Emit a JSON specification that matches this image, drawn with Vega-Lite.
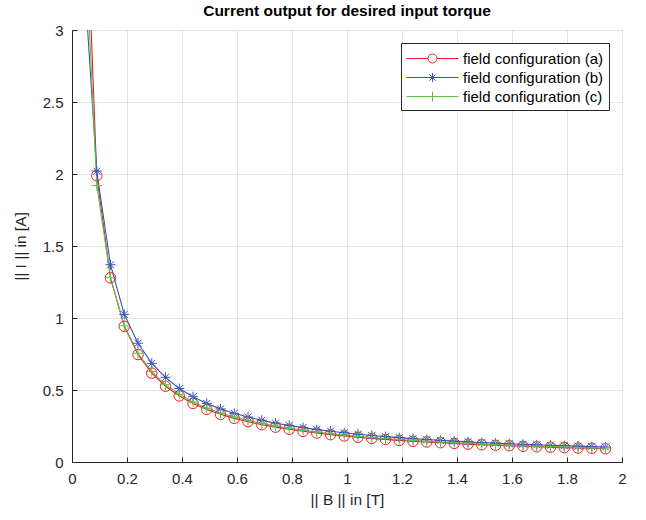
{
  "$schema": "https://vega.github.io/schema/vega-lite/v6.json",
  "width": 550,
  "height": 432,
  "autosize": {"type": "none"},
  "padding": {"left": 72, "top": 30, "right": 24, "bottom": 58},
  "background": "white",
  "title": {"text": "Current output for desired input torque", "font": "Liberation Sans", "fontSize": 15.5, "fontWeight": "bold", "color": "#000000", "offset": 4, "anchor": "middle"},
  "config": {
    "view": {"stroke": "#262626", "strokeWidth": 1},
    "axis": {"labelFont": "Liberation Sans", "titleFont": "Liberation Sans", "labelFontSize": 15, "titleFontSize": 15.5, "labelColor": "#262626", "titleColor": "#262626", "titleFontWeight": "normal", "domainColor": "#262626", "tickColor": "#262626", "gridColor": "#e3e3e3", "gridWidth": 1, "tickSize": -5, "labelFlush": false, "labelOverlap": false, "format": "~g"}
  },
  "datasets": {
    "curves": [
      {"B": 0.04, "I": 4.475, "config": "field configuration (a)"},
      {"B": 0.09, "I": 1.989, "config": "field configuration (a)"},
      {"B": 0.14, "I": 1.279, "config": "field configuration (a)"},
      {"B": 0.19, "I": 0.942, "config": "field configuration (a)"},
      {"B": 0.24, "I": 0.746, "config": "field configuration (a)"},
      {"B": 0.29, "I": 0.617, "config": "field configuration (a)"},
      {"B": 0.34, "I": 0.526, "config": "field configuration (a)"},
      {"B": 0.39, "I": 0.459, "config": "field configuration (a)"},
      {"B": 0.44, "I": 0.407, "config": "field configuration (a)"},
      {"B": 0.49, "I": 0.365, "config": "field configuration (a)"},
      {"B": 0.54, "I": 0.331, "config": "field configuration (a)"},
      {"B": 0.59, "I": 0.303, "config": "field configuration (a)"},
      {"B": 0.64, "I": 0.280, "config": "field configuration (a)"},
      {"B": 0.69, "I": 0.259, "config": "field configuration (a)"},
      {"B": 0.74, "I": 0.242, "config": "field configuration (a)"},
      {"B": 0.79, "I": 0.227, "config": "field configuration (a)"},
      {"B": 0.84, "I": 0.213, "config": "field configuration (a)"},
      {"B": 0.89, "I": 0.201, "config": "field configuration (a)"},
      {"B": 0.94, "I": 0.190, "config": "field configuration (a)"},
      {"B": 0.99, "I": 0.181, "config": "field configuration (a)"},
      {"B": 1.04, "I": 0.172, "config": "field configuration (a)"},
      {"B": 1.09, "I": 0.164, "config": "field configuration (a)"},
      {"B": 1.14, "I": 0.157, "config": "field configuration (a)"},
      {"B": 1.19, "I": 0.150, "config": "field configuration (a)"},
      {"B": 1.24, "I": 0.144, "config": "field configuration (a)"},
      {"B": 1.29, "I": 0.139, "config": "field configuration (a)"},
      {"B": 1.34, "I": 0.134, "config": "field configuration (a)"},
      {"B": 1.39, "I": 0.129, "config": "field configuration (a)"},
      {"B": 1.44, "I": 0.124, "config": "field configuration (a)"},
      {"B": 1.49, "I": 0.120, "config": "field configuration (a)"},
      {"B": 1.54, "I": 0.116, "config": "field configuration (a)"},
      {"B": 1.59, "I": 0.113, "config": "field configuration (a)"},
      {"B": 1.64, "I": 0.109, "config": "field configuration (a)"},
      {"B": 1.69, "I": 0.106, "config": "field configuration (a)"},
      {"B": 1.74, "I": 0.103, "config": "field configuration (a)"},
      {"B": 1.79, "I": 0.100, "config": "field configuration (a)"},
      {"B": 1.84, "I": 0.097, "config": "field configuration (a)"},
      {"B": 1.89, "I": 0.095, "config": "field configuration (a)"},
      {"B": 1.94, "I": 0.092, "config": "field configuration (a)"},
      {"B": 0.04, "I": 3.5, "config": "field configuration (b)"},
      {"B": 0.09, "I": 2.020, "config": "field configuration (b)"},
      {"B": 0.14, "I": 1.370, "config": "field configuration (b)"},
      {"B": 0.19, "I": 1.025, "config": "field configuration (b)"},
      {"B": 0.24, "I": 0.825, "config": "field configuration (b)"},
      {"B": 0.29, "I": 0.685, "config": "field configuration (b)"},
      {"B": 0.34, "I": 0.588, "config": "field configuration (b)"},
      {"B": 0.39, "I": 0.510, "config": "field configuration (b)"},
      {"B": 0.44, "I": 0.453, "config": "field configuration (b)"},
      {"B": 0.49, "I": 0.407, "config": "field configuration (b)"},
      {"B": 0.54, "I": 0.369, "config": "field configuration (b)"},
      {"B": 0.59, "I": 0.338, "config": "field configuration (b)"},
      {"B": 0.64, "I": 0.312, "config": "field configuration (b)"},
      {"B": 0.69, "I": 0.290, "config": "field configuration (b)"},
      {"B": 0.74, "I": 0.270, "config": "field configuration (b)"},
      {"B": 0.79, "I": 0.254, "config": "field configuration (b)"},
      {"B": 0.84, "I": 0.239, "config": "field configuration (b)"},
      {"B": 0.89, "I": 0.225, "config": "field configuration (b)"},
      {"B": 0.94, "I": 0.214, "config": "field configuration (b)"},
      {"B": 0.99, "I": 0.203, "config": "field configuration (b)"},
      {"B": 1.04, "I": 0.193, "config": "field configuration (b)"},
      {"B": 1.09, "I": 0.184, "config": "field configuration (b)"},
      {"B": 1.14, "I": 0.176, "config": "field configuration (b)"},
      {"B": 1.19, "I": 0.169, "config": "field configuration (b)"},
      {"B": 1.24, "I": 0.162, "config": "field configuration (b)"},
      {"B": 1.29, "I": 0.156, "config": "field configuration (b)"},
      {"B": 1.34, "I": 0.150, "config": "field configuration (b)"},
      {"B": 1.39, "I": 0.145, "config": "field configuration (b)"},
      {"B": 1.44, "I": 0.140, "config": "field configuration (b)"},
      {"B": 1.49, "I": 0.135, "config": "field configuration (b)"},
      {"B": 1.54, "I": 0.131, "config": "field configuration (b)"},
      {"B": 1.59, "I": 0.127, "config": "field configuration (b)"},
      {"B": 1.64, "I": 0.123, "config": "field configuration (b)"},
      {"B": 1.69, "I": 0.119, "config": "field configuration (b)"},
      {"B": 1.74, "I": 0.116, "config": "field configuration (b)"},
      {"B": 1.79, "I": 0.113, "config": "field configuration (b)"},
      {"B": 1.84, "I": 0.110, "config": "field configuration (b)"},
      {"B": 1.89, "I": 0.107, "config": "field configuration (b)"},
      {"B": 1.94, "I": 0.104, "config": "field configuration (b)"},
      {"B": 0.04, "I": 3.95, "config": "field configuration (c)"},
      {"B": 0.09, "I": 1.920, "config": "field configuration (c)"},
      {"B": 0.14, "I": 1.280, "config": "field configuration (c)"},
      {"B": 0.19, "I": 0.946, "config": "field configuration (c)"},
      {"B": 0.24, "I": 0.755, "config": "field configuration (c)"},
      {"B": 0.29, "I": 0.628, "config": "field configuration (c)"},
      {"B": 0.34, "I": 0.537, "config": "field configuration (c)"},
      {"B": 0.39, "I": 0.470, "config": "field configuration (c)"},
      {"B": 0.44, "I": 0.417, "config": "field configuration (c)"},
      {"B": 0.49, "I": 0.375, "config": "field configuration (c)"},
      {"B": 0.54, "I": 0.341, "config": "field configuration (c)"},
      {"B": 0.59, "I": 0.312, "config": "field configuration (c)"},
      {"B": 0.64, "I": 0.288, "config": "field configuration (c)"},
      {"B": 0.69, "I": 0.268, "config": "field configuration (c)"},
      {"B": 0.74, "I": 0.250, "config": "field configuration (c)"},
      {"B": 0.79, "I": 0.234, "config": "field configuration (c)"},
      {"B": 0.84, "I": 0.220, "config": "field configuration (c)"},
      {"B": 0.89, "I": 0.208, "config": "field configuration (c)"},
      {"B": 0.94, "I": 0.197, "config": "field configuration (c)"},
      {"B": 0.99, "I": 0.187, "config": "field configuration (c)"},
      {"B": 1.04, "I": 0.178, "config": "field configuration (c)"},
      {"B": 1.09, "I": 0.170, "config": "field configuration (c)"},
      {"B": 1.14, "I": 0.163, "config": "field configuration (c)"},
      {"B": 1.19, "I": 0.156, "config": "field configuration (c)"},
      {"B": 1.24, "I": 0.150, "config": "field configuration (c)"},
      {"B": 1.29, "I": 0.144, "config": "field configuration (c)"},
      {"B": 1.34, "I": 0.139, "config": "field configuration (c)"},
      {"B": 1.39, "I": 0.134, "config": "field configuration (c)"},
      {"B": 1.44, "I": 0.129, "config": "field configuration (c)"},
      {"B": 1.49, "I": 0.125, "config": "field configuration (c)"},
      {"B": 1.54, "I": 0.121, "config": "field configuration (c)"},
      {"B": 1.59, "I": 0.117, "config": "field configuration (c)"},
      {"B": 1.64, "I": 0.113, "config": "field configuration (c)"},
      {"B": 1.69, "I": 0.110, "config": "field configuration (c)"},
      {"B": 1.74, "I": 0.107, "config": "field configuration (c)"},
      {"B": 1.79, "I": 0.104, "config": "field configuration (c)"},
      {"B": 1.84, "I": 0.101, "config": "field configuration (c)"},
      {"B": 1.89, "I": 0.098, "config": "field configuration (c)"},
      {"B": 1.94, "I": 0.096, "config": "field configuration (c)"}
    ]
  },
  "data": {"name": "curves"},
  "encoding": {
    "x": {"field": "B", "type": "quantitative", "scale": {"domain": [0, 2], "nice": false, "zero": false}, "axis": {"title": "|| B || in [T]", "values": [0, 0.2, 0.4, 0.6, 0.8, 1, 1.2, 1.4, 1.6, 1.8, 2], "labelPadding": 14, "titlePadding": 6}},
    "y": {"field": "I", "type": "quantitative", "scale": {"domain": [0, 3], "nice": false}, "axis": {"title": "|| I || in [A]", "values": [0, 0.5, 1, 1.5, 2, 2.5, 3], "labelPadding": 14, "titlePadding": 14}},
    "color": {"field": "config", "type": "nominal", "scale": {"domain": ["field configuration (a)", "field configuration (b)", "field configuration (c)"], "range": ["#f01c1c", "#3552c4", "#5ec24a"]},
      "legend": {
        "title": null, "orient": "top-right", "offset": 13,
        "strokeColor": "#262626", "fillColor": "white", "padding": 5,
        "labelFont": "Liberation Sans", "labelFontSize": 15, "labelColor": "#000000", "labelLimit": 300,
        "symbolSize": 400, "symbolStrokeWidth": 1, "symbolFillColor": "transparent", "rowPadding": 0, "labelOffset": 36,
        "encode": {"symbols": {"update": {
          "shape": {"signal": "datum.value == 'field configuration (a)' ? 'M-1,0L1.15,0M2.05,0L4.2,0M1.15,0A0.45,0.45 0 1,1 2.05,0A0.45,0.45 0 1,1 1.15,0' : datum.value == 'field configuration (b)' ? 'M-1,0L4.2,0M1.6,-0.45L1.6,0.45M1.28,-0.32L1.92,0.32M1.28,0.32L1.92,-0.32' : 'M-1,0L4.2,0M1.6,-0.5L1.6,0.5'"},
          "stroke": {"signal": "datum.value == 'field configuration (a)' ? '#f01c1c' : datum.value == 'field configuration (b)' ? '#3552c4' : '#5ec24a'"},
          "fill": {"value": "transparent"},
          "strokeWidth": {"value": 1}
        }}}
      }
    }
  },
  "layer": [
    {
      "mark": {"type": "line", "strokeWidth": 1.1, "clip": true},
      "encoding": {"detail": {"field": "config"}}
    },
    {
      "transform": [{"filter": "datum.config == 'field configuration (a)'"}],
      "mark": {"type": "point", "filled": false, "strokeWidth": 1, "size": 110, "clip": true, "opacity": 1, "shape": "M-1,0A1,1 0 1,1 1,0A1,1 0 1,1 -1,0Z"}
    },
    {
      "transform": [{"filter": "datum.config == 'field configuration (b)'"}],
      "mark": {"type": "point", "filled": false, "strokeWidth": 1, "size": 100, "clip": true, "opacity": 1, "shape": "M-1,0L1,0M0,-1L0,1M-0.7,-0.7L0.7,0.7M-0.7,0.7L0.7,-0.7"}
    },
    {
      "transform": [{"filter": "datum.config == 'field configuration (c)'"}],
      "mark": {"type": "point", "filled": false, "strokeWidth": 1, "size": 110, "clip": true, "opacity": 1, "shape": "M-1,0L1,0M0,-1L0,1"}
    }
  ]
}
